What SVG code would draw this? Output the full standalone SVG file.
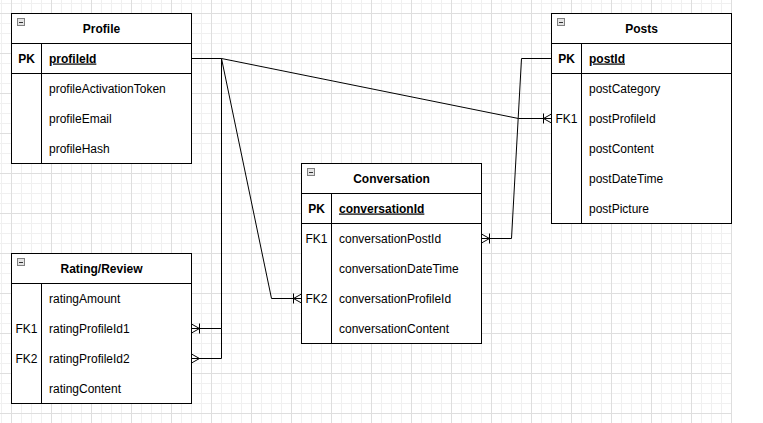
<svg xmlns="http://www.w3.org/2000/svg" width="763" height="423" viewBox="0 0 763 423">
<style>
.tbl{fill:#fff;stroke:#000;stroke-width:1}
.ln{stroke:#000;stroke-width:1;fill:none}
.title{font-family:"Liberation Sans",Arial,sans-serif;font-size:12px;font-weight:bold;fill:#000;text-anchor:middle}
.key{font-family:"Liberation Sans",Arial,sans-serif;font-size:12px;fill:#000;text-anchor:middle}
.pk{font-weight:bold}
.fld{font-family:"Liberation Sans",Arial,sans-serif;font-size:12px;fill:#000}
.pkf{font-weight:bold;text-decoration:underline}
.icon{fill:#e4e4e4;stroke:#808080;stroke-width:1}
.edge{stroke:#000;stroke-width:1;fill:none}
</style>
<defs>
<pattern id="grid" patternUnits="userSpaceOnUse" x="11" y="13" width="40" height="40">
<path d="M10.5 0V40M20.5 0V40M30.5 0V40M0 10.5H40M0 20.5H40M0 30.5H40" stroke="#f0f0f0" stroke-width="1" fill="none"/>
<path d="M0.5 0V40M0 0.5H40" stroke="#dedede" stroke-width="1" fill="none"/>
</pattern>
<marker id="oneMany" markerUnits="userSpaceOnUse" viewBox="-11 -7 13 14" markerWidth="13" markerHeight="14" refX="0" refY="0" orient="auto" overflow="visible">
<path d="M0 -4.5L-8 0L0 4.5M-8 -5V5" fill="none" stroke="#000" stroke-width="1"/>
</marker>
<marker id="many" markerUnits="userSpaceOnUse" viewBox="-11 -7 13 14" markerWidth="13" markerHeight="14" refX="0" refY="0" orient="auto" overflow="visible">
<path d="M0 -4.5L-8 0L0 4.5" fill="none" stroke="#000" stroke-width="1"/>
</marker>
<g id="collapse">
<rect class="icon" x="0.5" y="0.5" width="7" height="7"/>
<path d="M2 4.5H6" stroke="#333" stroke-width="1"/>
</g>
</defs>
<rect x="0" y="0" width="732" height="423" fill="url(#grid)"/>

<g id="connectors">
<path class="edge" d="M191.5 58.5H221.5L518.5 118.5H551.5" marker-end="url(#oneMany)"/>
<path class="edge" d="M221.5 58.5L271.5 298.5H301.5" marker-end="url(#oneMany)"/>
<path class="edge" d="M221.5 58.5V328.5H191.5" marker-end="url(#oneMany)"/>
<path class="edge" d="M221.5 328.5V358.5H191.5" marker-end="url(#many)"/>
<path class="edge" d="M551.5 58.5H521.5L511.5 238.5H481.5" marker-end="url(#oneMany)"/>
</g>

<g id="profile">
<rect class="tbl" x="11.5" y="13.5" width="180" height="150"/>
<path class="ln" d="M11.5 43.5H191.5M11.5 73.5H191.5M41.5 43.5V163.5"/>
<use href="#collapse" x="17" y="18"/>
<text class="title" x="101.5" y="32.5">Profile</text>
<text class="key pk" x="26.5" y="62.5">PK</text>
<text class="fld pkf" x="49" y="62.5">profileId</text>
<text class="fld" x="49" y="92.5">profileActivationToken</text>
<text class="fld" x="49" y="122.5">profileEmail</text>
<text class="fld" x="49" y="152.5">profileHash</text>
</g>

<g id="posts">
<rect class="tbl" x="551.5" y="13.5" width="180" height="210"/>
<path class="ln" d="M551.5 43.5H731.5M551.5 73.5H731.5M581.5 43.5V223.5"/>
<use href="#collapse" x="557" y="18"/>
<text class="title" x="641.5" y="32.5">Posts</text>
<text class="key pk" x="566.5" y="62.5">PK</text>
<text class="fld pkf" x="589" y="62.5">postId</text>
<text class="fld" x="589" y="92.5">postCategory</text>
<text class="key" x="566.5" y="122.5">FK1</text>
<text class="fld" x="589" y="122.5">postProfileId</text>
<text class="fld" x="589" y="152.5">postContent</text>
<text class="fld" x="589" y="182.5">postDateTime</text>
<text class="fld" x="589" y="212.5">postPicture</text>
</g>

<g id="conversation">
<rect class="tbl" x="301.5" y="163.5" width="180" height="180"/>
<path class="ln" d="M301.5 193.5H481.5M301.5 223.5H481.5M331.5 193.5V343.5"/>
<use href="#collapse" x="307" y="168"/>
<text class="title" x="391.5" y="182.5">Conversation</text>
<text class="key pk" x="316.5" y="212.5">PK</text>
<text class="fld pkf" x="339" y="212.5">conversationId</text>
<text class="key" x="316.5" y="242.5">FK1</text>
<text class="fld" x="339" y="242.5">conversationPostId</text>
<text class="fld" x="339" y="272.5">conversationDateTime</text>
<text class="key" x="316.5" y="302.5">FK2</text>
<text class="fld" x="339" y="302.5">conversationProfileId</text>
<text class="fld" x="339" y="332.5">conversationContent</text>
</g>

<g id="rating">
<rect class="tbl" x="11.5" y="253.5" width="180" height="150"/>
<path class="ln" d="M11.5 283.5H191.5M41.5 283.5V403.5"/>
<use href="#collapse" x="17" y="258"/>
<text class="title" x="101.5" y="272.5">Rating/Review</text>
<text class="fld" x="49" y="302.5">ratingAmount</text>
<text class="key" x="26.5" y="332.5">FK1</text>
<text class="fld" x="49" y="332.5">ratingProfileId1</text>
<text class="key" x="26.5" y="362.5">FK2</text>
<text class="fld" x="49" y="362.5">ratingProfileId2</text>
<text class="fld" x="49" y="392.5">ratingContent</text>
</g>
</svg>
